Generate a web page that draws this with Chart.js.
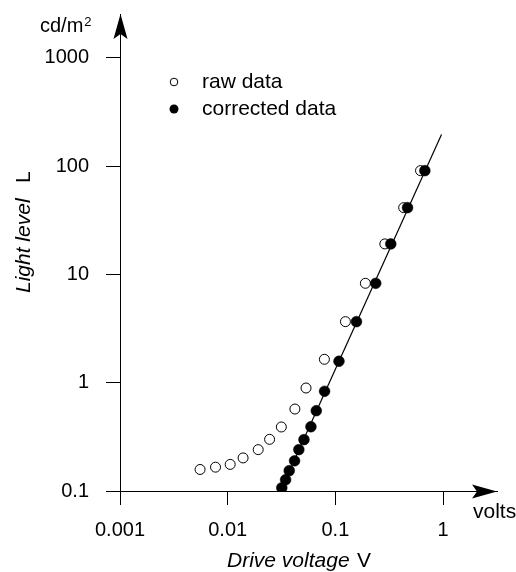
<!DOCTYPE html>
<html>
<head>
<meta charset="utf-8">
<script src="https://cdn.jsdelivr.net/npm/chart.js@4/dist/chart.umd.min.js"></script>
<style>
  html, body { margin: 0; padding: 0; background: #fff; }
  #wrap { width: 516px; height: 572px; position: relative; }
</style>
</head>
<body>
<div id="wrap"><canvas id="chart"></canvas></div>
<script>
// ── Data ────────────────────────────────────────────────────

// Drive voltage (V) and light level (cd/m2) as measured
const rawV = [0.00554, 0.00771, 0.01055, 0.0139, 0.0192, 0.0245, 0.0315, 0.0421, 0.0534, 0.0791, 0.124, 0.190, 0.288, 0.431, 0.618];
const rawL = [0.158, 0.166, 0.176, 0.202, 0.241, 0.300, 0.390, 0.571, 0.893, 1.644, 3.66, 8.27, 19.1, 41.3, 90.7];

// Same readings after the offset correction
const corrV = [0.0318, 0.0345, 0.0373, 0.0418, 0.0458, 0.0511, 0.0593, 0.0665, 0.0794, 0.108, 0.157, 0.237, 0.327, 0.468, 0.678];
const corrL = [0.107, 0.127, 0.154, 0.190, 0.241, 0.298, 0.392, 0.551, 0.833, 1.577, 3.66, 8.27, 19.1, 41.3, 90.7];

// Power-law fit through the corrected data (straight on log-log)
const fitV = [0.0318, 0.968];
const fitL = [0.107, 196];

const xTicks = [0.001, 0.01, 0.1, 1];
const xTickLabels = ["0.001", "0.01", "0.1", "1"];
const yTicks = [0.1, 1, 10, 100, 1000];
const yTickLabels = ["0.1", "1", "10", "100", "1000"];

const seriesLabels = ["raw data", "corrected data"];

// ── Helpers ─────────────────────────────────────────────────

const FONT = "'Liberation Sans', Arial, Helvetica, sans-serif";

function toPoints(xs, ys) {
  return xs.map((x, i) => ({ x, y: ys[i] }));
}

function labelFor(ticks, labels) {
  return (value) => {
    const i = ticks.findIndex((t) => Math.abs(Math.log10(t) - Math.log10(value)) < 1e-6);
    return i >= 0 ? labels[i] : "";
  };
}

// filled "stealth" arrowhead pointing along (dx, dy)
function arrowHead(ctx, tipX, tipY, dx, dy) {
  const len = 25, half = 7, notch = 20;
  const px = -dy, py = dx;
  ctx.beginPath();
  ctx.moveTo(tipX, tipY);
  ctx.lineTo(tipX - dx * len + px * half, tipY - dy * len + py * half);
  ctx.lineTo(tipX - dx * notch, tipY - dy * notch);
  ctx.lineTo(tipX - dx * len - px * half, tipY - dy * len - py * half);
  ctx.closePath();
  ctx.fill();
}

// ── Decorations: arrows, units, axis titles, legend ─────────

const decorations = {
  id: "decorations",
  afterDraw(chart) {
    const ctx = chart.ctx;
    const { left, right, top, bottom } = chart.chartArea;
    ctx.save();
    ctx.fillStyle = "#000";

    arrowHead(ctx, right, bottom + 0.5, 1, 0);
    arrowHead(ctx, left + 0.5, top, 0, -1);

    ctx.textBaseline = "alphabetic";
    ctx.textAlign = "left";

    // units
    ctx.font = `20px ${FONT}`;
    ctx.fillText("cd/m", 40, 32);
    const w = ctx.measureText("cd/m").width;
    ctx.font = `13px ${FONT}`;
    ctx.fillText("2", 40 + w + 1, 26);
    ctx.font = `21px ${FONT}`;
    ctx.fillText("volts", 473, 518);

    // x title
    ctx.font = `italic 21px ${FONT}`;
    ctx.fillText("Drive voltage", 227, 567);
    ctx.font = `21px ${FONT}`;
    ctx.fillText("V", 357, 567);

    // y title, rotated
    ctx.save();
    ctx.translate(30, 293);
    ctx.rotate(-Math.PI / 2);
    ctx.font = `italic 21px ${FONT}`;
    ctx.fillText("Light level", 0, 0);
    ctx.font = `21px ${FONT}`;
    ctx.fillText("L", 110, 0);
    ctx.restore();

    // legend
    ctx.font = `21px ${FONT}`;
    ctx.textBaseline = "middle";
    ctx.lineWidth = 1;
    ctx.strokeStyle = "#000";
    ctx.beginPath();
    ctx.arc(174, 82, 3.8, 0, Math.PI * 2);
    ctx.fillStyle = "#fff";
    ctx.fill();
    ctx.stroke();
    ctx.fillStyle = "#000";
    ctx.fillText(seriesLabels[0], 202, 82);
    ctx.beginPath();
    ctx.arc(174, 109, 4.5, 0, Math.PI * 2);
    ctx.fill();
    ctx.fillText(seriesLabels[1], 202, 109);

    ctx.restore();
  },
};

// ── Chart ───────────────────────────────────────────────────

const axisCommon = {
  type: "logarithmic",
  border: { display: true, color: "#000", width: 1 },
  grid: { drawOnChartArea: false, drawTicks: true, tickLength: 14, color: "#000", tickColor: "#000" },
};

new Chart(document.getElementById("chart"), {
  type: "scatter",
  data: {
    datasets: [
      {
        label: seriesLabels[1],
        data: toPoints(corrV, corrL),
        pointRadius: 5.4,
        pointBackgroundColor: "#000",
        pointBorderColor: "#000",
        pointBorderWidth: 0.5,
        order: 0,
      },
      {
        label: seriesLabels[0],
        data: toPoints(rawV, rawL),
        pointRadius: 5,
        pointBackgroundColor: "#fff",
        pointBorderColor: "#000",
        pointBorderWidth: 1,
        order: 1,
      },
      {
        label: "fit",
        data: toPoints(fitV, fitL),
        showLine: true,
        pointRadius: 0,
        borderColor: "#000",
        borderWidth: 1.2,
        order: 2,
      },
    ],
  },
  options: {
    responsive: true,
    maintainAspectRatio: false,
    animation: false,
    events: [],
    layout: { padding: { top: 14, right: 19, bottom: 0, left: 0 } },
    plugins: { legend: { display: false }, tooltip: { enabled: false } },
    scales: {
      x: {
        ...axisCommon,
        min: 0.001,
        max: 3.17,
        ticks: {
          font: { family: FONT, size: 20 },
          color: "#000",
          padding: 13,
          maxRotation: 0,
          autoSkip: false,
          callback: labelFor(xTicks, xTickLabels),
        },
        afterBuildTicks: (scale) => { scale.ticks = xTicks.map((v) => ({ value: v })); },
        afterFit: (scale) => {
          scale.height = 81;
          scale.paddingLeft = 0;
          scale.paddingRight = 0;
        },
      },
      y: {
        ...axisCommon,
        min: 0.1,
        max: 2533,
        ticks: {
          font: { family: FONT, size: 20 },
          color: "#000",
          padding: 17,
          autoSkip: false,
          callback: labelFor(yTicks, yTickLabels),
        },
        afterBuildTicks: (scale) => { scale.ticks = yTicks.map((v) => ({ value: v })); },
        afterFit: (scale) => {
          scale.width = 120;
          scale.paddingTop = 0;
          scale.paddingBottom = 0;
        },
      },
    },
  },
  plugins: [decorations],
});
</script>
</body>
</html>
